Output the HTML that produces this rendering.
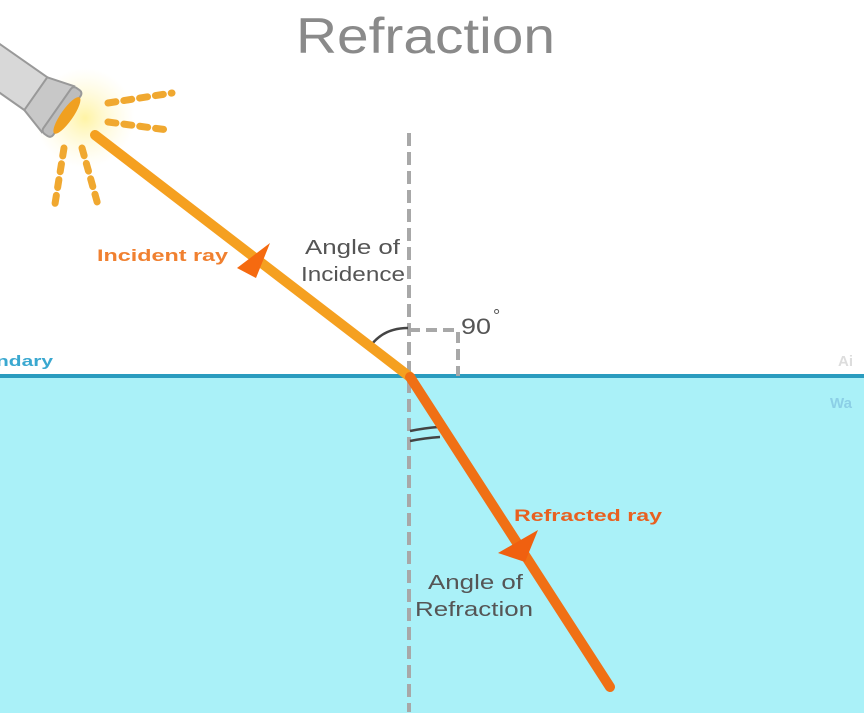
<!DOCTYPE html>
<html><head><meta charset="utf-8"><style>
html,body{margin:0;padding:0;background:#fff;width:864px;height:717px;overflow:hidden}
svg{display:block}
text{font-family:"Liberation Sans",sans-serif}
</style></head><body>
<svg width="864" height="717" viewBox="0 0 864 717">
<defs>
<radialGradient id="glow" cx="0.5" cy="0.5" r="0.5">
<stop offset="0" stop-color="#fff3a0" stop-opacity="0.95"/>
<stop offset="1" stop-color="#fff8d0" stop-opacity="0"/>
</radialGradient>
</defs>
<rect x="0" y="0" width="864" height="717" fill="#fff"/>
<rect x="0" y="377" width="864" height="336" fill="#aaf1f8"/>
<line x1="0" y1="376" x2="864" y2="376" stroke="#2a9cbf" stroke-width="4"/>
<text x="296" y="53" font-size="50" fill="#8a8a8a" textLength="259" lengthAdjust="spacingAndGlyphs">Refraction</text>
<text x="-4" y="366" font-size="15" font-weight="bold" fill="#3aa8d0" textLength="57" lengthAdjust="spacingAndGlyphs">ndary</text>
<text x="838" y="366" font-size="15" font-weight="bold" fill="#ddd">Ai</text>
<text x="830" y="408" font-size="15" font-weight="bold" fill="#8ccfe6">Wa</text>
<!-- flashlight -->
<circle cx="85" cy="118" r="50" fill="url(#glow)"/>
<g transform="translate(62,112) rotate(35)">
<rect x="-110" y="-20" width="80" height="40" fill="#d8d8d8" stroke="#999" stroke-width="2"/>
<polygon points="-32,-20 -5,-28 -5,28 -32,20" fill="#c8c8c8" stroke="#999" stroke-width="2"/>
<rect x="-6" y="-28" width="12" height="56" rx="4" fill="#bdbdbd" stroke="#999" stroke-width="2"/>
<ellipse cx="6" cy="0" rx="6" ry="22" fill="#f0a020"/>
</g>
<g stroke="#f0a830" stroke-width="7" stroke-linecap="round" fill="none" stroke-dasharray="8,8">
<line x1="108" y1="103" x2="172" y2="93"/>
<line x1="108" y1="122" x2="168" y2="130"/>
<line x1="64" y1="148" x2="54" y2="210"/>
<line x1="82" y1="148" x2="98" y2="205"/>
</g>
<!-- normal -->
<line x1="409" y1="133" x2="409" y2="712" stroke="#a8a8a8" stroke-width="4" stroke-dasharray="13,6"/>
<!-- 90 deg -->
<path d="M409 330 H458 V376" stroke="#a8a8a8" stroke-width="4" stroke-dasharray="11,6" fill="none"/>
<text x="461" y="334" font-size="22" fill="#555" textLength="30" lengthAdjust="spacingAndGlyphs">90</text>
<text x="493" y="322" font-size="18" fill="#555">°</text>
<!-- angle arcs -->
<path d="M372 344 Q385 328 408 328" stroke="#444" stroke-width="2.5" fill="none"/>
<path d="M410 431 Q425 428 438 427" stroke="#444" stroke-width="2.5" fill="none"/>
<path d="M410 441 Q425 438 440 437" stroke="#444" stroke-width="2.5" fill="none"/>
<!-- rays -->
<line x1="95" y1="135" x2="410" y2="377" stroke="#f5a020" stroke-width="10" stroke-linecap="round"/>
<line x1="410" y1="377" x2="610" y2="687" stroke="#f07015" stroke-width="10" stroke-linecap="round"/>
<polygon points="237,268 270,243 256,278" fill="#f56a10"/>
<polygon points="498,553 538,530 525,562" fill="#f06010"/>
<text x="97" y="261" font-size="17" font-weight="bold" fill="#f08030" textLength="131" lengthAdjust="spacingAndGlyphs">Incident ray</text>
<text x="514" y="521" font-size="17" font-weight="bold" fill="#e86020" textLength="148" lengthAdjust="spacingAndGlyphs">Refracted ray</text>
<text x="305" y="254" font-size="20" fill="#555" textLength="95" lengthAdjust="spacingAndGlyphs">Angle of</text>
<text x="301" y="281" font-size="20" fill="#555" textLength="104" lengthAdjust="spacingAndGlyphs">Incidence</text>
<text x="428" y="589" font-size="20" fill="#555" textLength="95" lengthAdjust="spacingAndGlyphs">Angle of</text>
<text x="415" y="616" font-size="20" fill="#555" textLength="118" lengthAdjust="spacingAndGlyphs">Refraction</text>
</svg>
</body></html>
